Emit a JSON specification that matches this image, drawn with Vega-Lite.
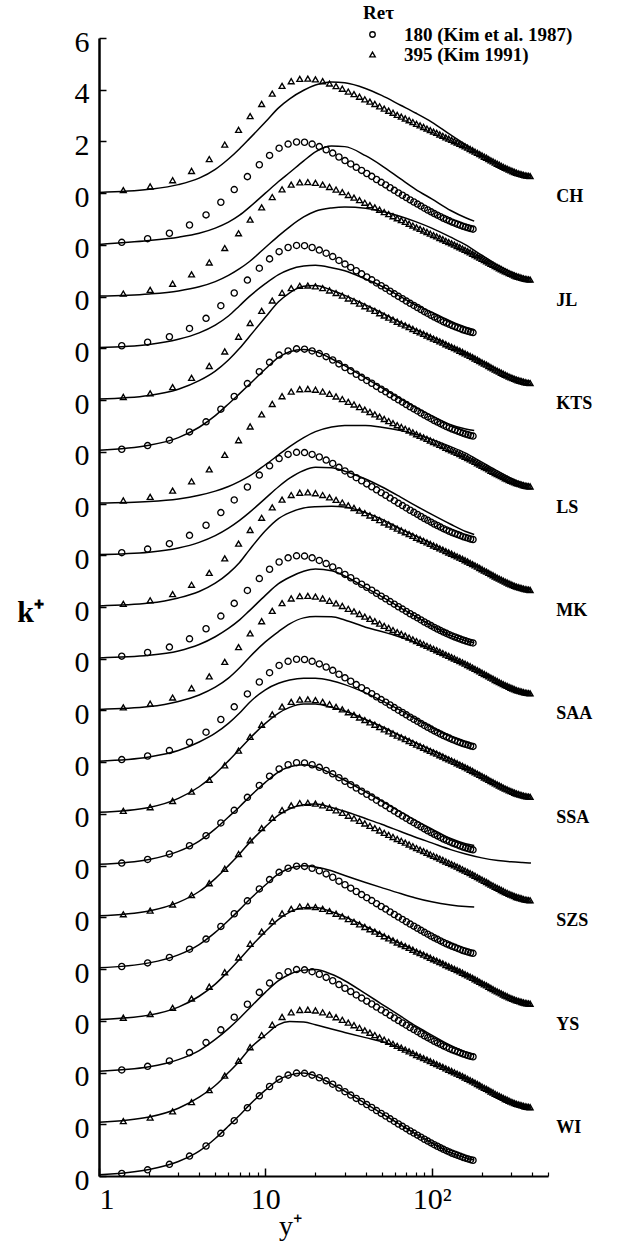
{
"$schema": "https://vega.github.io/schema/vega-lite/v6.json",
"width": 449, "height": 1138, "autosize": "none",
"padding": {"left": 99, "top": 38, "right": 76, "bottom": 73},
"background": "white",
"config": {"view": {"stroke": null},
 "axis": {"labelFont": "Liberation Serif", "titleFont": "Liberation Serif", "labelColor": "black", "titleColor": "black", "domainColor": "black", "tickColor": "black", "grid": false},
 "point": {"strokeWidth": 1.35},
 "line": {"strokeWidth": 1.5},
 "legend": {"orient": "none", "legendX": 264, "legendY": -34, "labelFont": "Liberation Serif", "labelFontWeight": "bold", "labelFontSize": 19, "labelColor": "black", "labelLimit": 400, "titleFont": "Liberation Serif", "titleFontWeight": "bold", "titleFontSize": 19, "titleColor": "black", "symbolSize": 30, "symbolStrokeWidth": 1.3, "symbolStrokeColor": "black", "rowPadding": 0, "labelOffset": 22, "titlePadding": 2}},
"datasets": {
"dns": [
{"Re":180,"yp":1.37,"k":0.10},{"Re":180,"yp":1.96,"k":0.24},{"Re":180,"yp":2.65,"k":0.45},{"Re":180,"yp":3.5,"k":0.77},{"Re":180,"yp":4.4,"k":1.16},{"Re":180,"yp":5.4,"k":1.65},{"Re":180,"yp":6.5,"k":2.14},{"Re":180,"yp":7.8,"k":2.64},{"Re":180,"yp":9.2,"k":3.10},{"Re":180,"yp":10.6,"k":3.46},{"Re":180,"yp":12.1,"k":3.74},{"Re":180,"yp":13.7,"k":3.90},{"Re":180,"yp":15.4,"k":3.98},{"Re":180,"yp":17.2,"k":3.97},{"Re":180,"yp":19.1,"k":3.90},{"Re":180,"yp":21.1,"k":3.80},{"Re":180,"yp":23.2,"k":3.68},{"Re":180,"yp":25.4,"k":3.55},{"Re":180,"yp":27.7,"k":3.40},{"Re":180,"yp":30.1,"k":3.26},{"Re":180,"yp":32.6,"k":3.13},{"Re":180,"yp":35.2,"k":3.00},{"Re":180,"yp":37.9,"k":2.88},{"Re":180,"yp":40.7,"k":2.76},{"Re":180,"yp":43.6,"k":2.65},{"Re":180,"yp":46.6,"k":2.53},{"Re":180,"yp":49.7,"k":2.42},{"Re":180,"yp":52.9,"k":2.32},{"Re":180,"yp":56.2,"k":2.21},{"Re":180,"yp":59.6,"k":2.11},{"Re":180,"yp":63.1,"k":2.01},{"Re":180,"yp":66.7,"k":1.92},{"Re":180,"yp":70.4,"k":1.83},{"Re":180,"yp":74.2,"k":1.74},{"Re":180,"yp":78.1,"k":1.66},{"Re":180,"yp":82.1,"k":1.58},{"Re":180,"yp":86.2,"k":1.50},{"Re":180,"yp":90.4,"k":1.42},{"Re":180,"yp":94.7,"k":1.35},{"Re":180,"yp":99.1,"k":1.28},{"Re":180,"yp":103.6,"k":1.21},{"Re":180,"yp":108.2,"k":1.15},{"Re":180,"yp":112.9,"k":1.09},{"Re":180,"yp":117.7,"k":1.03},{"Re":180,"yp":122.6,"k":0.98},{"Re":180,"yp":127.6,"k":0.93},{"Re":180,"yp":132.7,"k":0.88},{"Re":180,"yp":137.9,"k":0.84},{"Re":180,"yp":143.2,"k":0.80},{"Re":180,"yp":148.6,"k":0.76},{"Re":180,"yp":154.1,"k":0.72},{"Re":180,"yp":159.7,"k":0.69},{"Re":180,"yp":165.4,"k":0.66},{"Re":180,"yp":171.2,"k":0.63},{"Re":180,"yp":177.1,"k":0.61},
{"Re":395,"yp":1.4,"k":0.12},{"Re":395,"yp":2.03,"k":0.26},{"Re":395,"yp":2.77,"k":0.50},{"Re":395,"yp":3.6,"k":0.86},{"Re":395,"yp":4.6,"k":1.32},{"Re":395,"yp":5.7,"k":1.88},{"Re":395,"yp":6.9,"k":2.45},{"Re":395,"yp":8.1,"k":2.98},{"Re":395,"yp":9.5,"k":3.45},{"Re":395,"yp":11.0,"k":3.85},{"Re":395,"yp":12.6,"k":4.15},{"Re":395,"yp":14.3,"k":4.33},{"Re":395,"yp":16.1,"k":4.42},{"Re":395,"yp":18.0,"k":4.43},{"Re":395,"yp":20.0,"k":4.40},{"Re":395,"yp":22.1,"k":4.33},{"Re":395,"yp":24.3,"k":4.24},{"Re":395,"yp":26.6,"k":4.14},{"Re":395,"yp":29.0,"k":4.04},{"Re":395,"yp":31.5,"k":3.93},{"Re":395,"yp":34.1,"k":3.83},{"Re":395,"yp":36.8,"k":3.73},{"Re":395,"yp":39.6,"k":3.63},{"Re":395,"yp":42.5,"k":3.54},{"Re":395,"yp":45.5,"k":3.45},{"Re":395,"yp":48.6,"k":3.36},{"Re":395,"yp":51.8,"k":3.27},{"Re":395,"yp":55.1,"k":3.19},{"Re":395,"yp":58.5,"k":3.11},{"Re":395,"yp":62.0,"k":3.03},{"Re":395,"yp":65.6,"k":2.96},{"Re":395,"yp":69.3,"k":2.89},{"Re":395,"yp":73.1,"k":2.82},{"Re":395,"yp":77.0,"k":2.75},{"Re":395,"yp":81.0,"k":2.68},{"Re":395,"yp":85.1,"k":2.62},{"Re":395,"yp":89.3,"k":2.56},{"Re":395,"yp":93.6,"k":2.50},{"Re":395,"yp":98.0,"k":2.44},{"Re":395,"yp":102.5,"k":2.38},{"Re":395,"yp":107.1,"k":2.33},{"Re":395,"yp":111.8,"k":2.27},{"Re":395,"yp":116.6,"k":2.22},{"Re":395,"yp":121.5,"k":2.16},{"Re":395,"yp":126.5,"k":2.11},{"Re":395,"yp":131.6,"k":2.06},{"Re":395,"yp":136.8,"k":2.01},{"Re":395,"yp":142.1,"k":1.96},{"Re":395,"yp":147.5,"k":1.91},{"Re":395,"yp":153.0,"k":1.86},{"Re":395,"yp":158.6,"k":1.81},{"Re":395,"yp":164.3,"k":1.76},{"Re":395,"yp":170.1,"k":1.71},{"Re":395,"yp":176.0,"k":1.66},{"Re":395,"yp":182.0,"k":1.61},{"Re":395,"yp":188.1,"k":1.56},{"Re":395,"yp":194.3,"k":1.51},{"Re":395,"yp":200.6,"k":1.46},{"Re":395,"yp":207.0,"k":1.41},{"Re":395,"yp":213.5,"k":1.37},{"Re":395,"yp":220.1,"k":1.32},{"Re":395,"yp":226.8,"k":1.27},{"Re":395,"yp":233.6,"k":1.23},{"Re":395,"yp":240.5,"k":1.18},{"Re":395,"yp":247.5,"k":1.14},{"Re":395,"yp":254.6,"k":1.10},{"Re":395,"yp":261.8,"k":1.06},{"Re":395,"yp":269.1,"k":1.02},{"Re":395,"yp":276.5,"k":0.98},{"Re":395,"yp":284.0,"k":0.95},{"Re":395,"yp":291.6,"k":0.91},{"Re":395,"yp":299.3,"k":0.88},{"Re":395,"yp":307.1,"k":0.85},{"Re":395,"yp":315.0,"k":0.82},{"Re":395,"yp":323.0,"k":0.79},{"Re":395,"yp":331.1,"k":0.77},{"Re":395,"yp":339.3,"k":0.75},{"Re":395,"yp":347.6,"k":0.73},{"Re":395,"yp":356.0,"k":0.71},{"Re":395,"yp":364.5,"k":0.69},{"Re":395,"yp":373.1,"k":0.68},{"Re":395,"yp":381.8,"k":0.67},{"Re":395,"yp":390.6,"k":0.66}
],
"model": [
{"c":"CH-395","yp":1,"k":0.03},{"c":"CH-395","yp":2,"k":0.15},{"c":"CH-395","yp":3,"k":0.33},{"c":"CH-395","yp":4,"k":0.58},{"c":"CH-395","yp":5,"k":0.92},{"c":"CH-395","yp":6,"k":1.32},{"c":"CH-395","yp":7,"k":1.72},{"c":"CH-395","yp":8,"k":2.1},{"c":"CH-395","yp":10,"k":2.75},{"c":"CH-395","yp":12,"k":3.3},{"c":"CH-395","yp":14,"k":3.65},{"c":"CH-395","yp":17,"k":3.98},{"c":"CH-395","yp":20,"k":4.18},{"c":"CH-395","yp":25,"k":4.3},{"c":"CH-395","yp":30,"k":4.27},{"c":"CH-395","yp":40,"k":4.05},{"c":"CH-395","yp":50,"k":3.78},{"c":"CH-395","yp":65,"k":3.4},{"c":"CH-395","yp":80,"k":3.1},{"c":"CH-395","yp":100,"k":2.75},{"c":"CH-395","yp":130,"k":2.25},{"c":"CH-395","yp":160,"k":1.88},{"c":"CH-395","yp":200,"k":1.45},{"c":"CH-395","yp":250,"k":1.12},{"c":"CH-395","yp":300,"k":0.9},{"c":"CH-395","yp":350,"k":0.76},{"c":"CH-395","yp":395,"k":0.68},
{"c":"CH-180","yp":1,"k":0.02},{"c":"CH-180","yp":2,"k":0.17},{"c":"CH-180","yp":3,"k":0.3},{"c":"CH-180","yp":4,"k":0.45},{"c":"CH-180","yp":5,"k":0.65},{"c":"CH-180","yp":6,"k":0.88},{"c":"CH-180","yp":7,"k":1.15},{"c":"CH-180","yp":8,"k":1.45},{"c":"CH-180","yp":10,"k":2.0},{"c":"CH-180","yp":12,"k":2.45},{"c":"CH-180","yp":14,"k":2.8},{"c":"CH-180","yp":17,"k":3.25},{"c":"CH-180","yp":20,"k":3.6},{"c":"CH-180","yp":25,"k":3.82},{"c":"CH-180","yp":30,"k":3.8},{"c":"CH-180","yp":40,"k":3.45},{"c":"CH-180","yp":50,"k":3.07},{"c":"CH-180","yp":65,"k":2.55},{"c":"CH-180","yp":80,"k":2.15},{"c":"CH-180","yp":100,"k":1.78},{"c":"CH-180","yp":130,"k":1.33},{"c":"CH-180","yp":160,"k":1.05},{"c":"CH-180","yp":180,"k":0.92},
{"c":"JL-395","yp":1,"k":0.02},{"c":"JL-395","yp":2,"k":0.1},{"c":"JL-395","yp":3,"k":0.22},{"c":"JL-395","yp":4,"k":0.38},{"c":"JL-395","yp":5,"k":0.58},{"c":"JL-395","yp":6,"k":0.82},{"c":"JL-395","yp":7,"k":1.08},{"c":"JL-395","yp":8,"k":1.35},{"c":"JL-395","yp":10,"k":1.9},{"c":"JL-395","yp":12,"k":2.35},{"c":"JL-395","yp":14,"k":2.7},{"c":"JL-395","yp":17,"k":3.08},{"c":"JL-395","yp":20,"k":3.3},{"c":"JL-395","yp":25,"k":3.43},{"c":"JL-395","yp":30,"k":3.47},{"c":"JL-395","yp":40,"k":3.42},{"c":"JL-395","yp":50,"k":3.3},{"c":"JL-395","yp":65,"k":3.1},{"c":"JL-395","yp":80,"k":2.9},{"c":"JL-395","yp":100,"k":2.65},{"c":"JL-395","yp":130,"k":2.3},{"c":"JL-395","yp":160,"k":2.0},{"c":"JL-395","yp":200,"k":1.6},{"c":"JL-395","yp":250,"k":1.22},{"c":"JL-395","yp":300,"k":0.95},{"c":"JL-395","yp":350,"k":0.78},{"c":"JL-395","yp":395,"k":0.7},
{"c":"JL-180","yp":1,"k":0.03},{"c":"JL-180","yp":2,"k":0.15},{"c":"JL-180","yp":3,"k":0.35},{"c":"JL-180","yp":4,"k":0.6},{"c":"JL-180","yp":5,"k":0.9},{"c":"JL-180","yp":6,"k":1.25},{"c":"JL-180","yp":7,"k":1.65},{"c":"JL-180","yp":8,"k":2.0},{"c":"JL-180","yp":10,"k":2.5},{"c":"JL-180","yp":12,"k":2.85},{"c":"JL-180","yp":14,"k":3.05},{"c":"JL-180","yp":17,"k":3.18},{"c":"JL-180","yp":20,"k":3.21},{"c":"JL-180","yp":25,"k":3.12},{"c":"JL-180","yp":30,"k":3.0},{"c":"JL-180","yp":40,"k":2.68},{"c":"JL-180","yp":50,"k":2.4},{"c":"JL-180","yp":65,"k":2.0},{"c":"JL-180","yp":80,"k":1.68},{"c":"JL-180","yp":100,"k":1.4},{"c":"JL-180","yp":130,"k":1.05},{"c":"JL-180","yp":160,"k":0.82},{"c":"JL-180","yp":180,"k":0.72},
{"c":"KTS-395","yp":1,"k":0.04},{"c":"KTS-395","yp":2,"k":0.18},{"c":"KTS-395","yp":3,"k":0.42},{"c":"KTS-395","yp":4,"k":0.75},{"c":"KTS-395","yp":5,"k":1.12},{"c":"KTS-395","yp":6,"k":1.55},{"c":"KTS-395","yp":7,"k":2.0},{"c":"KTS-395","yp":8,"k":2.45},{"c":"KTS-395","yp":10,"k":3.2},{"c":"KTS-395","yp":12,"k":3.8},{"c":"KTS-395","yp":14,"k":4.15},{"c":"KTS-395","yp":17,"k":4.4},{"c":"KTS-395","yp":20,"k":4.43},{"c":"KTS-395","yp":25,"k":4.25},{"c":"KTS-395","yp":30,"k":4.05},{"c":"KTS-395","yp":40,"k":3.68},{"c":"KTS-395","yp":50,"k":3.38},{"c":"KTS-395","yp":65,"k":3.0},{"c":"KTS-395","yp":80,"k":2.73},{"c":"KTS-395","yp":100,"k":2.45},{"c":"KTS-395","yp":130,"k":2.1},{"c":"KTS-395","yp":160,"k":1.82},{"c":"KTS-395","yp":200,"k":1.5},{"c":"KTS-395","yp":250,"k":1.17},{"c":"KTS-395","yp":300,"k":0.93},{"c":"KTS-395","yp":350,"k":0.78},{"c":"KTS-395","yp":395,"k":0.72},
{"c":"KTS-180","yp":1,"k":0.06},{"c":"KTS-180","yp":2,"k":0.25},{"c":"KTS-180","yp":3,"k":0.55},{"c":"KTS-180","yp":4,"k":0.95},{"c":"KTS-180","yp":5,"k":1.4},{"c":"KTS-180","yp":6,"k":1.85},{"c":"KTS-180","yp":7,"k":2.25},{"c":"KTS-180","yp":8,"k":2.6},{"c":"KTS-180","yp":10,"k":3.2},{"c":"KTS-180","yp":12,"k":3.65},{"c":"KTS-180","yp":14,"k":3.87},{"c":"KTS-180","yp":17,"k":3.96},{"c":"KTS-180","yp":20,"k":3.88},{"c":"KTS-180","yp":25,"k":3.6},{"c":"KTS-180","yp":30,"k":3.33},{"c":"KTS-180","yp":40,"k":2.85},{"c":"KTS-180","yp":50,"k":2.48},{"c":"KTS-180","yp":65,"k":2.05},{"c":"KTS-180","yp":80,"k":1.72},{"c":"KTS-180","yp":100,"k":1.4},{"c":"KTS-180","yp":130,"k":1.05},{"c":"KTS-180","yp":160,"k":0.88},{"c":"KTS-180","yp":180,"k":0.82},
{"c":"LS-395","yp":1,"k":0.02},{"c":"LS-395","yp":2,"k":0.08},{"c":"LS-395","yp":3,"k":0.18},{"c":"LS-395","yp":4,"k":0.32},{"c":"LS-395","yp":5,"k":0.48},{"c":"LS-395","yp":6,"k":0.66},{"c":"LS-395","yp":7,"k":0.86},{"c":"LS-395","yp":8,"k":1.06},{"c":"LS-395","yp":10,"k":1.5},{"c":"LS-395","yp":12,"k":1.88},{"c":"LS-395","yp":14,"k":2.2},{"c":"LS-395","yp":17,"k":2.55},{"c":"LS-395","yp":20,"k":2.78},{"c":"LS-395","yp":25,"k":2.96},{"c":"LS-395","yp":30,"k":3.02},{"c":"LS-395","yp":40,"k":3.02},{"c":"LS-395","yp":50,"k":2.95},{"c":"LS-395","yp":65,"k":2.82},{"c":"LS-395","yp":80,"k":2.68},{"c":"LS-395","yp":100,"k":2.48},{"c":"LS-395","yp":130,"k":2.2},{"c":"LS-395","yp":160,"k":1.95},{"c":"LS-395","yp":200,"k":1.6},{"c":"LS-395","yp":250,"k":1.25},{"c":"LS-395","yp":300,"k":0.98},{"c":"LS-395","yp":350,"k":0.8},{"c":"LS-395","yp":395,"k":0.72},
{"c":"LS-180","yp":1,"k":0.03},{"c":"LS-180","yp":2,"k":0.12},{"c":"LS-180","yp":3,"k":0.28},{"c":"LS-180","yp":4,"k":0.5},{"c":"LS-180","yp":5,"k":0.76},{"c":"LS-180","yp":6,"k":1.05},{"c":"LS-180","yp":7,"k":1.35},{"c":"LS-180","yp":8,"k":1.65},{"c":"LS-180","yp":10,"k":2.2},{"c":"LS-180","yp":12,"k":2.65},{"c":"LS-180","yp":14,"k":2.98},{"c":"LS-180","yp":17,"k":3.28},{"c":"LS-180","yp":20,"k":3.4},{"c":"LS-180","yp":25,"k":3.38},{"c":"LS-180","yp":30,"k":3.25},{"c":"LS-180","yp":40,"k":2.95},{"c":"LS-180","yp":50,"k":2.65},{"c":"LS-180","yp":65,"k":2.25},{"c":"LS-180","yp":80,"k":1.92},{"c":"LS-180","yp":100,"k":1.58},{"c":"LS-180","yp":130,"k":1.2},{"c":"LS-180","yp":160,"k":0.92},{"c":"LS-180","yp":180,"k":0.8},
{"c":"MK-395","yp":1,"k":0.04},{"c":"MK-395","yp":2,"k":0.15},{"c":"MK-395","yp":3,"k":0.35},{"c":"MK-395","yp":4,"k":0.6},{"c":"MK-395","yp":5,"k":0.92},{"c":"MK-395","yp":6,"k":1.3},{"c":"MK-395","yp":7,"k":1.72},{"c":"MK-395","yp":8,"k":2.2},{"c":"MK-395","yp":10,"k":2.95},{"c":"MK-395","yp":12,"k":3.42},{"c":"MK-395","yp":14,"k":3.65},{"c":"MK-395","yp":17,"k":3.83},{"c":"MK-395","yp":20,"k":3.88},{"c":"MK-395","yp":25,"k":3.9},{"c":"MK-395","yp":30,"k":3.87},{"c":"MK-395","yp":40,"k":3.65},{"c":"MK-395","yp":50,"k":3.4},{"c":"MK-395","yp":65,"k":3.02},{"c":"MK-395","yp":80,"k":2.75},{"c":"MK-395","yp":100,"k":2.45},{"c":"MK-395","yp":130,"k":2.08},{"c":"MK-395","yp":160,"k":1.8},{"c":"MK-395","yp":200,"k":1.48},{"c":"MK-395","yp":250,"k":1.14},{"c":"MK-395","yp":300,"k":0.9},{"c":"MK-395","yp":350,"k":0.75},{"c":"MK-395","yp":395,"k":0.68},
{"c":"MK-180","yp":1,"k":0.03},{"c":"MK-180","yp":2,"k":0.13},{"c":"MK-180","yp":3,"k":0.3},{"c":"MK-180","yp":4,"k":0.55},{"c":"MK-180","yp":5,"k":0.85},{"c":"MK-180","yp":6,"k":1.17},{"c":"MK-180","yp":7,"k":1.5},{"c":"MK-180","yp":8,"k":1.85},{"c":"MK-180","yp":10,"k":2.45},{"c":"MK-180","yp":12,"k":2.9},{"c":"MK-180","yp":14,"k":3.15},{"c":"MK-180","yp":17,"k":3.38},{"c":"MK-180","yp":20,"k":3.47},{"c":"MK-180","yp":25,"k":3.4},{"c":"MK-180","yp":30,"k":3.2},{"c":"MK-180","yp":40,"k":2.75},{"c":"MK-180","yp":50,"k":2.4},{"c":"MK-180","yp":65,"k":1.97},{"c":"MK-180","yp":80,"k":1.63},{"c":"MK-180","yp":100,"k":1.28},{"c":"MK-180","yp":130,"k":0.9},{"c":"MK-180","yp":160,"k":0.7},{"c":"MK-180","yp":180,"k":0.62},
{"c":"SAA-395","yp":1,"k":0.04},{"c":"SAA-395","yp":2,"k":0.15},{"c":"SAA-395","yp":3,"k":0.35},{"c":"SAA-395","yp":4,"k":0.6},{"c":"SAA-395","yp":5,"k":0.9},{"c":"SAA-395","yp":6,"k":1.25},{"c":"SAA-395","yp":7,"k":1.65},{"c":"SAA-395","yp":8,"k":2.05},{"c":"SAA-395","yp":10,"k":2.65},{"c":"SAA-395","yp":12,"k":3.05},{"c":"SAA-395","yp":14,"k":3.35},{"c":"SAA-395","yp":17,"k":3.58},{"c":"SAA-395","yp":20,"k":3.63},{"c":"SAA-395","yp":25,"k":3.62},{"c":"SAA-395","yp":30,"k":3.5},{"c":"SAA-395","yp":40,"k":3.22},{"c":"SAA-395","yp":50,"k":3.05},{"c":"SAA-395","yp":65,"k":2.83},{"c":"SAA-395","yp":80,"k":2.63},{"c":"SAA-395","yp":100,"k":2.38},{"c":"SAA-395","yp":130,"k":2.05},{"c":"SAA-395","yp":160,"k":1.78},{"c":"SAA-395","yp":200,"k":1.46},{"c":"SAA-395","yp":250,"k":1.12},{"c":"SAA-395","yp":300,"k":0.88},{"c":"SAA-395","yp":350,"k":0.73},{"c":"SAA-395","yp":395,"k":0.67},
{"c":"SAA-180","yp":1,"k":0.04},{"c":"SAA-180","yp":2,"k":0.2},{"c":"SAA-180","yp":3,"k":0.45},{"c":"SAA-180","yp":4,"k":0.78},{"c":"SAA-180","yp":5,"k":1.12},{"c":"SAA-180","yp":6,"k":1.5},{"c":"SAA-180","yp":7,"k":1.9},{"c":"SAA-180","yp":8,"k":2.3},{"c":"SAA-180","yp":10,"k":2.8},{"c":"SAA-180","yp":12,"k":3.05},{"c":"SAA-180","yp":14,"k":3.18},{"c":"SAA-180","yp":17,"k":3.25},{"c":"SAA-180","yp":20,"k":3.25},{"c":"SAA-180","yp":25,"k":3.15},{"c":"SAA-180","yp":30,"k":3.0},{"c":"SAA-180","yp":40,"k":2.68},{"c":"SAA-180","yp":50,"k":2.38},{"c":"SAA-180","yp":65,"k":2.0},{"c":"SAA-180","yp":80,"k":1.68},{"c":"SAA-180","yp":100,"k":1.35},{"c":"SAA-180","yp":130,"k":1.0},{"c":"SAA-180","yp":160,"k":0.78},{"c":"SAA-180","yp":180,"k":0.7},
{"c":"SSA-395","yp":1,"k":0.06},{"c":"SSA-395","yp":2,"k":0.25},{"c":"SSA-395","yp":3,"k":0.6},{"c":"SSA-395","yp":4,"k":1.05},{"c":"SSA-395","yp":5,"k":1.55},{"c":"SSA-395","yp":6,"k":2.05},{"c":"SSA-395","yp":7,"k":2.5},{"c":"SSA-395","yp":8,"k":2.9},{"c":"SSA-395","yp":10,"k":3.5},{"c":"SSA-395","yp":12,"k":3.9},{"c":"SSA-395","yp":14,"k":4.12},{"c":"SSA-395","yp":17,"k":4.25},{"c":"SSA-395","yp":20,"k":4.25},{"c":"SSA-395","yp":25,"k":4.12},{"c":"SSA-395","yp":30,"k":3.98},{"c":"SSA-395","yp":40,"k":3.65},{"c":"SSA-395","yp":50,"k":3.38},{"c":"SSA-395","yp":65,"k":3.02},{"c":"SSA-395","yp":80,"k":2.75},{"c":"SSA-395","yp":100,"k":2.47},{"c":"SSA-395","yp":130,"k":2.12},{"c":"SSA-395","yp":160,"k":1.84},{"c":"SSA-395","yp":200,"k":1.52},{"c":"SSA-395","yp":250,"k":1.18},{"c":"SSA-395","yp":300,"k":0.93},{"c":"SSA-395","yp":350,"k":0.77},{"c":"SSA-395","yp":395,"k":0.7},
{"c":"SSA-180","yp":1,"k":0.05},{"c":"SSA-180","yp":2,"k":0.24},{"c":"SSA-180","yp":3,"k":0.55},{"c":"SSA-180","yp":4,"k":0.95},{"c":"SSA-180","yp":5,"k":1.42},{"c":"SSA-180","yp":6,"k":1.88},{"c":"SSA-180","yp":7,"k":2.28},{"c":"SSA-180","yp":8,"k":2.65},{"c":"SSA-180","yp":10,"k":3.22},{"c":"SSA-180","yp":12,"k":3.62},{"c":"SSA-180","yp":14,"k":3.82},{"c":"SSA-180","yp":17,"k":3.9},{"c":"SSA-180","yp":20,"k":3.82},{"c":"SSA-180","yp":25,"k":3.55},{"c":"SSA-180","yp":30,"k":3.3},{"c":"SSA-180","yp":40,"k":2.85},{"c":"SSA-180","yp":50,"k":2.5},{"c":"SSA-180","yp":65,"k":2.08},{"c":"SSA-180","yp":80,"k":1.75},{"c":"SSA-180","yp":100,"k":1.42},{"c":"SSA-180","yp":130,"k":1.05},{"c":"SSA-180","yp":160,"k":0.85},{"c":"SSA-180","yp":180,"k":0.78},
{"c":"SZS-395","yp":1,"k":0.06},{"c":"SZS-395","yp":2,"k":0.25},{"c":"SZS-395","yp":3,"k":0.58},{"c":"SZS-395","yp":4,"k":1.0},{"c":"SZS-395","yp":5,"k":1.5},{"c":"SZS-395","yp":6,"k":2.0},{"c":"SZS-395","yp":7,"k":2.45},{"c":"SZS-395","yp":8,"k":2.88},{"c":"SZS-395","yp":10,"k":3.5},{"c":"SZS-395","yp":12,"k":3.95},{"c":"SZS-395","yp":14,"k":4.2},{"c":"SZS-395","yp":17,"k":4.35},{"c":"SZS-395","yp":20,"k":4.38},{"c":"SZS-395","yp":25,"k":4.25},{"c":"SZS-395","yp":30,"k":4.1},{"c":"SZS-395","yp":40,"k":3.82},{"c":"SZS-395","yp":50,"k":3.6},{"c":"SZS-395","yp":65,"k":3.32},{"c":"SZS-395","yp":80,"k":3.1},{"c":"SZS-395","yp":100,"k":2.88},{"c":"SZS-395","yp":130,"k":2.62},{"c":"SZS-395","yp":160,"k":2.45},{"c":"SZS-395","yp":200,"k":2.3},{"c":"SZS-395","yp":250,"k":2.2},{"c":"SZS-395","yp":300,"k":2.15},{"c":"SZS-395","yp":350,"k":2.12},{"c":"SZS-395","yp":395,"k":2.1},
{"c":"SZS-180","yp":1,"k":0.05},{"c":"SZS-180","yp":2,"k":0.24},{"c":"SZS-180","yp":3,"k":0.55},{"c":"SZS-180","yp":4,"k":0.95},{"c":"SZS-180","yp":5,"k":1.42},{"c":"SZS-180","yp":6,"k":1.88},{"c":"SZS-180","yp":7,"k":2.3},{"c":"SZS-180","yp":8,"k":2.68},{"c":"SZS-180","yp":10,"k":3.25},{"c":"SZS-180","yp":12,"k":3.68},{"c":"SZS-180","yp":14,"k":3.9},{"c":"SZS-180","yp":17,"k":4.0},{"c":"SZS-180","yp":20,"k":3.95},{"c":"SZS-180","yp":25,"k":3.8},{"c":"SZS-180","yp":30,"k":3.62},{"c":"SZS-180","yp":40,"k":3.35},{"c":"SZS-180","yp":50,"k":3.15},{"c":"SZS-180","yp":65,"k":2.92},{"c":"SZS-180","yp":80,"k":2.75},{"c":"SZS-180","yp":100,"k":2.6},{"c":"SZS-180","yp":130,"k":2.48},{"c":"SZS-180","yp":160,"k":2.42},{"c":"SZS-180","yp":180,"k":2.4},
{"c":"YS-395","yp":1,"k":0.05},{"c":"YS-395","yp":2,"k":0.22},{"c":"YS-395","yp":3,"k":0.53},{"c":"YS-395","yp":4,"k":0.95},{"c":"YS-395","yp":5,"k":1.42},{"c":"YS-395","yp":6,"k":1.92},{"c":"YS-395","yp":7,"k":2.38},{"c":"YS-395","yp":8,"k":2.8},{"c":"YS-395","yp":10,"k":3.45},{"c":"YS-395","yp":12,"k":3.92},{"c":"YS-395","yp":14,"k":4.2},{"c":"YS-395","yp":17,"k":4.37},{"c":"YS-395","yp":20,"k":4.38},{"c":"YS-395","yp":25,"k":4.22},{"c":"YS-395","yp":30,"k":4.03},{"c":"YS-395","yp":40,"k":3.65},{"c":"YS-395","yp":50,"k":3.35},{"c":"YS-395","yp":65,"k":2.98},{"c":"YS-395","yp":80,"k":2.72},{"c":"YS-395","yp":100,"k":2.44},{"c":"YS-395","yp":130,"k":2.08},{"c":"YS-395","yp":160,"k":1.8},{"c":"YS-395","yp":200,"k":1.48},{"c":"YS-395","yp":250,"k":1.14},{"c":"YS-395","yp":300,"k":0.9},{"c":"YS-395","yp":350,"k":0.74},{"c":"YS-395","yp":395,"k":0.68},
{"c":"YS-180","yp":1,"k":0.05},{"c":"YS-180","yp":2,"k":0.22},{"c":"YS-180","yp":3,"k":0.5},{"c":"YS-180","yp":4,"k":0.85},{"c":"YS-180","yp":5,"k":1.28},{"c":"YS-180","yp":6,"k":1.7},{"c":"YS-180","yp":7,"k":2.1},{"c":"YS-180","yp":8,"k":2.48},{"c":"YS-180","yp":10,"k":3.1},{"c":"YS-180","yp":12,"k":3.55},{"c":"YS-180","yp":14,"k":3.8},{"c":"YS-180","yp":17,"k":3.96},{"c":"YS-180","yp":20,"k":3.98},{"c":"YS-180","yp":25,"k":3.8},{"c":"YS-180","yp":30,"k":3.55},{"c":"YS-180","yp":40,"k":3.05},{"c":"YS-180","yp":50,"k":2.65},{"c":"YS-180","yp":65,"k":2.18},{"c":"YS-180","yp":80,"k":1.8},{"c":"YS-180","yp":100,"k":1.45},{"c":"YS-180","yp":130,"k":1.05},{"c":"YS-180","yp":160,"k":0.8},{"c":"YS-180","yp":180,"k":0.7},
{"c":"WI-395","yp":1,"k":0.08},{"c":"WI-395","yp":2,"k":0.28},{"c":"WI-395","yp":3,"k":0.62},{"c":"WI-395","yp":4,"k":1.05},{"c":"WI-395","yp":5,"k":1.5},{"c":"WI-395","yp":6,"k":2.0},{"c":"WI-395","yp":7,"k":2.45},{"c":"WI-395","yp":8,"k":2.9},{"c":"WI-395","yp":10,"k":3.45},{"c":"WI-395","yp":12,"k":3.85},{"c":"WI-395","yp":14,"k":3.97},{"c":"WI-395","yp":17,"k":3.95},{"c":"WI-395","yp":20,"k":3.85},{"c":"WI-395","yp":25,"k":3.68},{"c":"WI-395","yp":30,"k":3.55},{"c":"WI-395","yp":40,"k":3.35},{"c":"WI-395","yp":50,"k":3.2},{"c":"WI-395","yp":65,"k":2.95},{"c":"WI-395","yp":80,"k":2.7},{"c":"WI-395","yp":100,"k":2.42},{"c":"WI-395","yp":130,"k":2.07},{"c":"WI-395","yp":160,"k":1.79},{"c":"WI-395","yp":200,"k":1.47},{"c":"WI-395","yp":250,"k":1.12},{"c":"WI-395","yp":300,"k":0.88},{"c":"WI-395","yp":350,"k":0.72},{"c":"WI-395","yp":395,"k":0.66},
{"c":"WI-180","yp":1,"k":0.05},{"c":"WI-180","yp":2,"k":0.25},{"c":"WI-180","yp":3,"k":0.56},{"c":"WI-180","yp":4,"k":0.96},{"c":"WI-180","yp":5,"k":1.45},{"c":"WI-180","yp":6,"k":1.93},{"c":"WI-180","yp":7,"k":2.35},{"c":"WI-180","yp":8,"k":2.74},{"c":"WI-180","yp":10,"k":3.32},{"c":"WI-180","yp":12,"k":3.72},{"c":"WI-180","yp":14,"k":3.9},{"c":"WI-180","yp":17,"k":3.98},{"c":"WI-180","yp":20,"k":3.87},{"c":"WI-180","yp":25,"k":3.56},{"c":"WI-180","yp":30,"k":3.28},{"c":"WI-180","yp":40,"k":2.8},{"c":"WI-180","yp":50,"k":2.42},{"c":"WI-180","yp":65,"k":1.98},{"c":"WI-180","yp":80,"k":1.63},{"c":"WI-180","yp":100,"k":1.28},{"c":"WI-180","yp":130,"k":0.9},{"c":"WI-180","yp":160,"k":0.7},{"c":"WI-180","yp":180,"k":0.62}
],
"labels": [{"m":"CH","o":38},{"m":"JL","o":34},{"m":"KTS","o":30},{"m":"LS","o":26},{"m":"MK","o":22},{"m":"SAA","o":18},{"m":"SSA","o":14},{"m":"SZS","o":10},{"m":"YS","o":6},{"m":"WI","o":2}]
},
"resolve": {"scale": {"y": "independent"}, "axis": {"x": "independent", "y": "independent"}},
"layer": [
{"layer": [
 {"data": {"name": "dns"}, "transform": [{"filter": "datum.Re==395"}], "mark": {"type": "point", "filled": false, "color": "black", "opacity": 1, "size": 34}, "encoding": {"x": {"field": "yp", "type": "quantitative", "scale": {"type": "log", "domain": [1, 500], "nice": false}, "axis": null}, "y": {"field": "k", "type": "quantitative", "scale": {"domain": [-38, 6], "nice": false, "zero": false}, "axis": null}, "shape": {"field": "Re", "type": "nominal", "scale": {"domain": [180, 395], "range": ["circle", "triangle-up"]}, "legend": {"title": "Reτ", "labelExpr": "datum.label == '180' ? '180 (Kim et al. 1987)' : '395 (Kim 1991)'"}}}},
 {"data": {"name": "model"}, "transform": [{"filter": "datum.c=='CH-395'"}], "mark": {"type": "line", "color": "black", "interpolate": "monotone"}, "encoding": {"x": {"field": "yp", "type": "quantitative", "axis": null}, "y": {"field": "k", "type": "quantitative", "axis": null}}}
]},
{"layer": [
 {"data": {"name": "dns"}, "transform": [{"filter": "datum.Re==180"}], "mark": {"type": "point", "filled": false, "color": "black", "opacity": 1, "size": 38}, "encoding": {"x": {"field": "yp", "type": "quantitative", "scale": {"type": "log", "domain": [1, 500], "nice": false}, "axis": null}, "y": {"field": "k", "type": "quantitative", "scale": {"domain": [-36, 8], "nice": false, "zero": false}, "axis": null}, "shape": {"field": "Re", "type": "nominal"}}},
 {"data": {"name": "model"}, "transform": [{"filter": "datum.c=='CH-180'"}], "mark": {"type": "line", "color": "black", "interpolate": "monotone"}, "encoding": {"x": {"field": "yp", "type": "quantitative", "axis": null}, "y": {"field": "k", "type": "quantitative", "axis": null}}}
]},
{"layer": [
 {"data": {"name": "dns"}, "transform": [{"filter": "datum.Re==395"}], "mark": {"type": "point", "filled": false, "color": "black", "opacity": 1, "size": 34}, "encoding": {"x": {"field": "yp", "type": "quantitative", "scale": {"type": "log", "domain": [1, 500], "nice": false}, "axis": null}, "y": {"field": "k", "type": "quantitative", "scale": {"domain": [-34, 10], "nice": false, "zero": false}, "axis": null}, "shape": {"field": "Re", "type": "nominal"}}},
 {"data": {"name": "model"}, "transform": [{"filter": "datum.c=='JL-395'"}], "mark": {"type": "line", "color": "black", "interpolate": "monotone"}, "encoding": {"x": {"field": "yp", "type": "quantitative", "axis": null}, "y": {"field": "k", "type": "quantitative", "axis": null}}}
]},
{"layer": [
 {"data": {"name": "dns"}, "transform": [{"filter": "datum.Re==180"}], "mark": {"type": "point", "filled": false, "color": "black", "opacity": 1, "size": 38}, "encoding": {"x": {"field": "yp", "type": "quantitative", "scale": {"type": "log", "domain": [1, 500], "nice": false}, "axis": null}, "y": {"field": "k", "type": "quantitative", "scale": {"domain": [-32, 12], "nice": false, "zero": false}, "axis": null}, "shape": {"field": "Re", "type": "nominal"}}},
 {"data": {"name": "model"}, "transform": [{"filter": "datum.c=='JL-180'"}], "mark": {"type": "line", "color": "black", "interpolate": "monotone"}, "encoding": {"x": {"field": "yp", "type": "quantitative", "axis": null}, "y": {"field": "k", "type": "quantitative", "axis": null}}}
]},
{"layer": [
 {"data": {"name": "dns"}, "transform": [{"filter": "datum.Re==395"}], "mark": {"type": "point", "filled": false, "color": "black", "opacity": 1, "size": 34}, "encoding": {"x": {"field": "yp", "type": "quantitative", "scale": {"type": "log", "domain": [1, 500], "nice": false}, "axis": null}, "y": {"field": "k", "type": "quantitative", "scale": {"domain": [-30, 14], "nice": false, "zero": false}, "axis": null}, "shape": {"field": "Re", "type": "nominal"}}},
 {"data": {"name": "model"}, "transform": [{"filter": "datum.c=='KTS-395'"}], "mark": {"type": "line", "color": "black", "interpolate": "monotone"}, "encoding": {"x": {"field": "yp", "type": "quantitative", "axis": null}, "y": {"field": "k", "type": "quantitative", "axis": null}}}
]},
{"layer": [
 {"data": {"name": "dns"}, "transform": [{"filter": "datum.Re==180"}], "mark": {"type": "point", "filled": false, "color": "black", "opacity": 1, "size": 38}, "encoding": {"x": {"field": "yp", "type": "quantitative", "scale": {"type": "log", "domain": [1, 500], "nice": false}, "axis": null}, "y": {"field": "k", "type": "quantitative", "scale": {"domain": [-28, 16], "nice": false, "zero": false}, "axis": null}, "shape": {"field": "Re", "type": "nominal"}}},
 {"data": {"name": "model"}, "transform": [{"filter": "datum.c=='KTS-180'"}], "mark": {"type": "line", "color": "black", "interpolate": "monotone"}, "encoding": {"x": {"field": "yp", "type": "quantitative", "axis": null}, "y": {"field": "k", "type": "quantitative", "axis": null}}}
]},
{"layer": [
 {"data": {"name": "dns"}, "transform": [{"filter": "datum.Re==395"}], "mark": {"type": "point", "filled": false, "color": "black", "opacity": 1, "size": 34}, "encoding": {"x": {"field": "yp", "type": "quantitative", "scale": {"type": "log", "domain": [1, 500], "nice": false}, "axis": null}, "y": {"field": "k", "type": "quantitative", "scale": {"domain": [-26, 18], "nice": false, "zero": false}, "axis": null}, "shape": {"field": "Re", "type": "nominal"}}},
 {"data": {"name": "model"}, "transform": [{"filter": "datum.c=='LS-395'"}], "mark": {"type": "line", "color": "black", "interpolate": "monotone"}, "encoding": {"x": {"field": "yp", "type": "quantitative", "axis": null}, "y": {"field": "k", "type": "quantitative", "axis": null}}}
]},
{"layer": [
 {"data": {"name": "dns"}, "transform": [{"filter": "datum.Re==180"}], "mark": {"type": "point", "filled": false, "color": "black", "opacity": 1, "size": 38}, "encoding": {"x": {"field": "yp", "type": "quantitative", "scale": {"type": "log", "domain": [1, 500], "nice": false}, "axis": null}, "y": {"field": "k", "type": "quantitative", "scale": {"domain": [-24, 20], "nice": false, "zero": false}, "axis": null}, "shape": {"field": "Re", "type": "nominal"}}},
 {"data": {"name": "model"}, "transform": [{"filter": "datum.c=='LS-180'"}], "mark": {"type": "line", "color": "black", "interpolate": "monotone"}, "encoding": {"x": {"field": "yp", "type": "quantitative", "axis": null}, "y": {"field": "k", "type": "quantitative", "axis": null}}}
]},
{"layer": [
 {"data": {"name": "dns"}, "transform": [{"filter": "datum.Re==395"}], "mark": {"type": "point", "filled": false, "color": "black", "opacity": 1, "size": 34}, "encoding": {"x": {"field": "yp", "type": "quantitative", "scale": {"type": "log", "domain": [1, 500], "nice": false}, "axis": null}, "y": {"field": "k", "type": "quantitative", "scale": {"domain": [-22, 22], "nice": false, "zero": false}, "axis": null}, "shape": {"field": "Re", "type": "nominal"}}},
 {"data": {"name": "model"}, "transform": [{"filter": "datum.c=='MK-395'"}], "mark": {"type": "line", "color": "black", "interpolate": "monotone"}, "encoding": {"x": {"field": "yp", "type": "quantitative", "axis": null}, "y": {"field": "k", "type": "quantitative", "axis": null}}}
]},
{"layer": [
 {"data": {"name": "dns"}, "transform": [{"filter": "datum.Re==180"}], "mark": {"type": "point", "filled": false, "color": "black", "opacity": 1, "size": 38}, "encoding": {"x": {"field": "yp", "type": "quantitative", "scale": {"type": "log", "domain": [1, 500], "nice": false}, "axis": null}, "y": {"field": "k", "type": "quantitative", "scale": {"domain": [-20, 24], "nice": false, "zero": false}, "axis": null}, "shape": {"field": "Re", "type": "nominal"}}},
 {"data": {"name": "model"}, "transform": [{"filter": "datum.c=='MK-180'"}], "mark": {"type": "line", "color": "black", "interpolate": "monotone"}, "encoding": {"x": {"field": "yp", "type": "quantitative", "axis": null}, "y": {"field": "k", "type": "quantitative", "axis": null}}}
]},
{"layer": [
 {"data": {"name": "dns"}, "transform": [{"filter": "datum.Re==395"}], "mark": {"type": "point", "filled": false, "color": "black", "opacity": 1, "size": 34}, "encoding": {"x": {"field": "yp", "type": "quantitative", "scale": {"type": "log", "domain": [1, 500], "nice": false}, "axis": null}, "y": {"field": "k", "type": "quantitative", "scale": {"domain": [-18, 26], "nice": false, "zero": false}, "axis": null}, "shape": {"field": "Re", "type": "nominal"}}},
 {"data": {"name": "model"}, "transform": [{"filter": "datum.c=='SAA-395'"}], "mark": {"type": "line", "color": "black", "interpolate": "monotone"}, "encoding": {"x": {"field": "yp", "type": "quantitative", "axis": null}, "y": {"field": "k", "type": "quantitative", "axis": null}}}
]},
{"layer": [
 {"data": {"name": "dns"}, "transform": [{"filter": "datum.Re==180"}], "mark": {"type": "point", "filled": false, "color": "black", "opacity": 1, "size": 38}, "encoding": {"x": {"field": "yp", "type": "quantitative", "scale": {"type": "log", "domain": [1, 500], "nice": false}, "axis": null}, "y": {"field": "k", "type": "quantitative", "scale": {"domain": [-16, 28], "nice": false, "zero": false}, "axis": null}, "shape": {"field": "Re", "type": "nominal"}}},
 {"data": {"name": "model"}, "transform": [{"filter": "datum.c=='SAA-180'"}], "mark": {"type": "line", "color": "black", "interpolate": "monotone"}, "encoding": {"x": {"field": "yp", "type": "quantitative", "axis": null}, "y": {"field": "k", "type": "quantitative", "axis": null}}}
]},
{"layer": [
 {"data": {"name": "dns"}, "transform": [{"filter": "datum.Re==395"}], "mark": {"type": "point", "filled": false, "color": "black", "opacity": 1, "size": 34}, "encoding": {"x": {"field": "yp", "type": "quantitative", "scale": {"type": "log", "domain": [1, 500], "nice": false}, "axis": null}, "y": {"field": "k", "type": "quantitative", "scale": {"domain": [-14, 30], "nice": false, "zero": false}, "axis": null}, "shape": {"field": "Re", "type": "nominal"}}},
 {"data": {"name": "model"}, "transform": [{"filter": "datum.c=='SSA-395'"}], "mark": {"type": "line", "color": "black", "interpolate": "monotone"}, "encoding": {"x": {"field": "yp", "type": "quantitative", "axis": null}, "y": {"field": "k", "type": "quantitative", "axis": null}}}
]},
{"layer": [
 {"data": {"name": "dns"}, "transform": [{"filter": "datum.Re==180"}], "mark": {"type": "point", "filled": false, "color": "black", "opacity": 1, "size": 38}, "encoding": {"x": {"field": "yp", "type": "quantitative", "scale": {"type": "log", "domain": [1, 500], "nice": false}, "axis": null}, "y": {"field": "k", "type": "quantitative", "scale": {"domain": [-12, 32], "nice": false, "zero": false}, "axis": null}, "shape": {"field": "Re", "type": "nominal"}}},
 {"data": {"name": "model"}, "transform": [{"filter": "datum.c=='SSA-180'"}], "mark": {"type": "line", "color": "black", "interpolate": "monotone"}, "encoding": {"x": {"field": "yp", "type": "quantitative", "axis": null}, "y": {"field": "k", "type": "quantitative", "axis": null}}}
]},
{"layer": [
 {"data": {"name": "dns"}, "transform": [{"filter": "datum.Re==395"}], "mark": {"type": "point", "filled": false, "color": "black", "opacity": 1, "size": 34}, "encoding": {"x": {"field": "yp", "type": "quantitative", "scale": {"type": "log", "domain": [1, 500], "nice": false}, "axis": null}, "y": {"field": "k", "type": "quantitative", "scale": {"domain": [-10, 34], "nice": false, "zero": false}, "axis": null}, "shape": {"field": "Re", "type": "nominal"}}},
 {"data": {"name": "model"}, "transform": [{"filter": "datum.c=='SZS-395'"}], "mark": {"type": "line", "color": "black", "interpolate": "monotone"}, "encoding": {"x": {"field": "yp", "type": "quantitative", "axis": null}, "y": {"field": "k", "type": "quantitative", "axis": null}}}
]},
{"layer": [
 {"data": {"name": "dns"}, "transform": [{"filter": "datum.Re==180"}], "mark": {"type": "point", "filled": false, "color": "black", "opacity": 1, "size": 38}, "encoding": {"x": {"field": "yp", "type": "quantitative", "scale": {"type": "log", "domain": [1, 500], "nice": false}, "axis": null}, "y": {"field": "k", "type": "quantitative", "scale": {"domain": [-8, 36], "nice": false, "zero": false}, "axis": null}, "shape": {"field": "Re", "type": "nominal"}}},
 {"data": {"name": "model"}, "transform": [{"filter": "datum.c=='SZS-180'"}], "mark": {"type": "line", "color": "black", "interpolate": "monotone"}, "encoding": {"x": {"field": "yp", "type": "quantitative", "axis": null}, "y": {"field": "k", "type": "quantitative", "axis": null}}}
]},
{"layer": [
 {"data": {"name": "dns"}, "transform": [{"filter": "datum.Re==395"}], "mark": {"type": "point", "filled": false, "color": "black", "opacity": 1, "size": 34}, "encoding": {"x": {"field": "yp", "type": "quantitative", "scale": {"type": "log", "domain": [1, 500], "nice": false}, "axis": null}, "y": {"field": "k", "type": "quantitative", "scale": {"domain": [-6, 38], "nice": false, "zero": false}, "axis": null}, "shape": {"field": "Re", "type": "nominal"}}},
 {"data": {"name": "model"}, "transform": [{"filter": "datum.c=='YS-395'"}], "mark": {"type": "line", "color": "black", "interpolate": "monotone"}, "encoding": {"x": {"field": "yp", "type": "quantitative", "axis": null}, "y": {"field": "k", "type": "quantitative", "axis": null}}}
]},
{"layer": [
 {"data": {"name": "dns"}, "transform": [{"filter": "datum.Re==180"}], "mark": {"type": "point", "filled": false, "color": "black", "opacity": 1, "size": 38}, "encoding": {"x": {"field": "yp", "type": "quantitative", "scale": {"type": "log", "domain": [1, 500], "nice": false}, "axis": null}, "y": {"field": "k", "type": "quantitative", "scale": {"domain": [-4, 40], "nice": false, "zero": false}, "axis": null}, "shape": {"field": "Re", "type": "nominal"}}},
 {"data": {"name": "model"}, "transform": [{"filter": "datum.c=='YS-180'"}], "mark": {"type": "line", "color": "black", "interpolate": "monotone"}, "encoding": {"x": {"field": "yp", "type": "quantitative", "axis": null}, "y": {"field": "k", "type": "quantitative", "axis": null}}}
]},
{"layer": [
 {"data": {"name": "dns"}, "transform": [{"filter": "datum.Re==395"}], "mark": {"type": "point", "filled": false, "color": "black", "opacity": 1, "size": 34}, "encoding": {"x": {"field": "yp", "type": "quantitative", "scale": {"type": "log", "domain": [1, 500], "nice": false}, "axis": {"orient": "bottom", "values": [2,3,4,5,6,7,8,9,20,30,40,50,60,70,80,90,200,300,400,500], "labels": false, "domain": false, "tickSize": -4, "tickWidth": 1.2, "title": null, "grid": false}}, "y": {"field": "k", "type": "quantitative", "scale": {"domain": [-2, 42], "nice": false, "zero": false}, "axis": null}, "shape": {"field": "Re", "type": "nominal"}}},
 {"data": {"name": "model"}, "transform": [{"filter": "datum.c=='WI-395'"}], "mark": {"type": "line", "color": "black", "interpolate": "monotone"}, "encoding": {"x": {"field": "yp", "type": "quantitative"}, "y": {"field": "k", "type": "quantitative", "axis": null}}}
]},
{"layer": [
 {"data": {"name": "dns"}, "transform": [{"filter": "datum.Re==180"}], "mark": {"type": "point", "filled": false, "color": "black", "opacity": 1, "size": 38}, "encoding": {"x": {"field": "yp", "type": "quantitative", "scale": {"type": "log", "domain": [1, 500], "nice": false}, "axis": {"orient": "bottom", "values": [1, 10, 100], "labelExpr": "datum.value == 100 ? '10²' : format(datum.value, 'd')", "tickSize": -8, "tickWidth": 1.5, "domainWidth": 2, "labelFontSize": 30, "labelPadding": 16, "labelFlush": true, "title": "y⁺", "titleFontSize": 28, "titleFontWeight": "normal", "titleX": 191, "titleY": 50, "titleBaseline": "middle"}}, "y": {"field": "k", "type": "quantitative", "scale": {"domain": [0, 44], "nice": false, "zero": false}, "axis": {"orient": "left", "values": [0,2,4,6,8,10,12,14,16,18,20,22,24,26,28,30,32,34,36,38,40,42,44], "labelExpr": "datum.value >= 40 ? format(datum.value - 38, 'd') : '0'", "tickSize": -7, "tickWidth": 1.5, "domainWidth": 2.5, "labelFontSize": 30, "labelPadding": 17, "labelOffset": 4, "title": "k⁺", "titleAngle": 0, "titleX": -69, "titleY": 574, "titleFontSize": 30, "titleFontWeight": "bold", "titleAlign": "center", "titleBaseline": "middle"}}, "shape": {"field": "Re", "type": "nominal"}}},
 {"data": {"name": "model"}, "transform": [{"filter": "datum.c=='WI-180'"}], "mark": {"type": "line", "color": "black", "interpolate": "monotone"}, "encoding": {"x": {"field": "yp", "type": "quantitative"}, "y": {"field": "k", "type": "quantitative"}}},
 {"data": {"name": "labels"}, "mark": {"type": "text", "align": "left", "baseline": "middle", "dy": 4, "font": "Liberation Serif", "fontWeight": "bold", "fontSize": 18, "color": "black"}, "encoding": {"x": {"datum": 560, "type": "quantitative"}, "y": {"field": "o", "type": "quantitative"}, "text": {"field": "m"}}}
]}
]
}
